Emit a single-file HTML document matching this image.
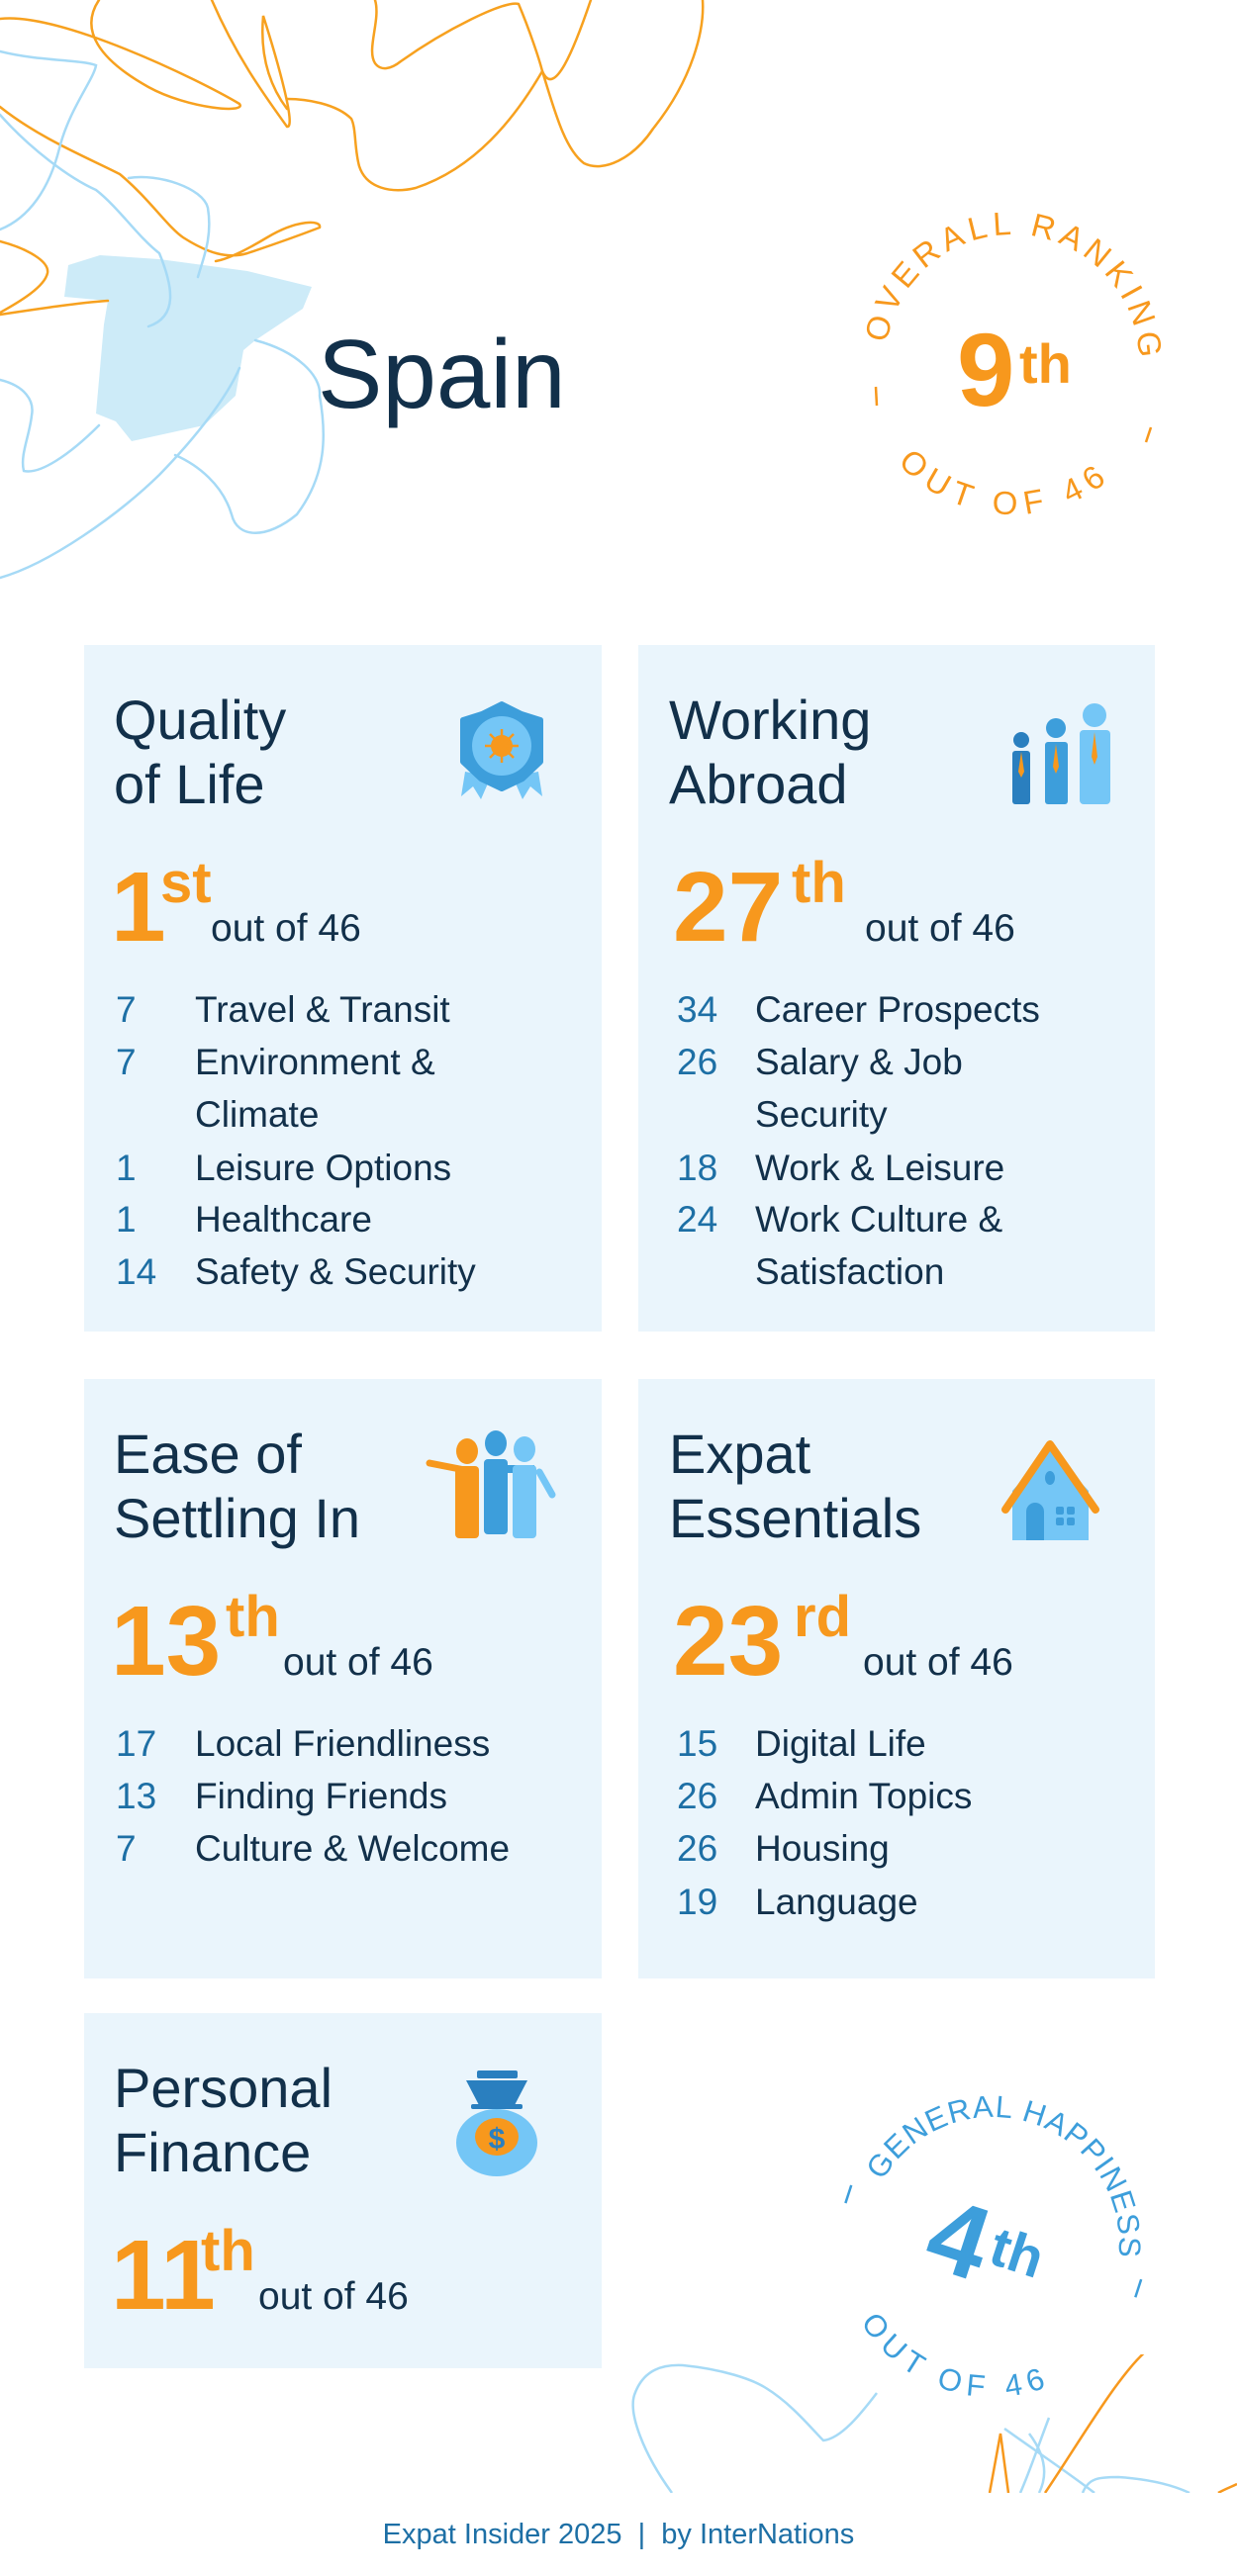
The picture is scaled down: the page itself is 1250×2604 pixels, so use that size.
<!DOCTYPE html>
<html><head><meta charset="utf-8"><style>
html,body{margin:0;padding:0;background:#fff;}
svg{display:block;}
text{font-family:"Liberation Sans",sans-serif;}
.t{font-size:56px;fill:#12304a;}
.big{font-size:100px;font-weight:bold;fill:#f7981d;}
.sup{font-size:58px;font-weight:bold;fill:#f7981d;}
.of{font-size:39px;fill:#12304a;}
.n{font-size:37px;fill:#1d6fa5;}
.l{font-size:37px;fill:#12304a;}
</style></head><body>
<svg width="1250" height="2604" viewBox="0 0 1250 2604" xmlns="http://www.w3.org/2000/svg">
<rect width="1250" height="2604" fill="#fff"/>
<g fill="none" stroke-width="2.5" stroke-linecap="round">
<polygon points="69,268 101,258 161,262 250,274 315,290 306,312 258,344 246,354 238,400 206,430 133,446 117,426 97,418 105,328 109,304 65,300" fill="#cdebf8" stroke="none"/>
<g stroke="#f7a11f">
<path d="M0,19 C60,12 200,80 242,105 C250,115 190,110 150,88 C100,60 80,30 100,0"/>
<path d="M214,0 C240,60 270,100 290,128 C300,130 280,60 266,16 C262,60 275,90 290,110"/>
<path d="M379,0 C385,20 370,50 379,64 C385,72 395,70 405,62 C450,30 510,0 524,4 C535,30 545,60 548,72 C560,110 570,150 590,165 C610,175 640,160 660,130 C700,80 712,30 710,0"/>
<path d="M597,0 C580,50 560,100 548,72 M548,72 C520,120 480,170 420,190 C395,196 370,190 363,168 C358,150 360,130 355,120 C340,105 310,100 290,100"/>
<path d="M0,108 C40,140 90,160 121,176 C150,200 170,230 185,240 C210,256 230,262 250,256 C280,246 310,235 323,230 C325,222 300,222 270,240 C250,252 230,262 218,264"/>
<path d="M0,244 C30,252 50,265 48,276 C45,290 20,305 0,316 M0,318 C40,312 80,306 109,304"/>
</g>
<g stroke="#a6daf6">
<path d="M0,52 C40,62 80,60 97,66 C95,80 70,110 60,150 C50,190 30,220 0,232"/>
<path d="M0,116 C30,150 70,180 97,192 C120,210 140,240 161,256 C175,290 180,320 150,330"/>
<path d="M130,180 C160,175 205,190 210,210 C215,240 205,262 200,280"/>
<path d="M258,344 C300,355 325,380 323,400 C330,440 330,480 300,520 C270,545 240,545 234,520 C225,490 200,470 177,460"/>
<path d="M0,384 C25,390 35,405 32,420 C30,440 20,460 24,476 C40,480 70,460 100,430"/>
<path d="M0,584 C50,570 120,520 161,480 C200,440 230,400 242,372"/>
</g>
</g>
<clipPath id="cb"><rect x="0" y="2380" width="1250" height="140"/></clipPath>
<g clip-path="url(#cb)" fill="none" stroke-width="2.5">
<g stroke="#a6daf6">
<path d="M679,2520 C650,2480 635,2440 641,2421 C650,2395 670,2390 690,2391 C730,2395 760,2405 774,2414 C800,2430 820,2455 832,2467 C850,2465 870,2440 886,2419"/>
<path d="M1015,2455 C1050,2480 1080,2500 1106,2520"/>
<path d="M1060,2444 C1050,2470 1040,2500 1031,2520"/>
<path d="M1040,2460 C1055,2480 1060,2500 1050,2520"/>
<path d="M1094,2520 C1100,2505 1110,2504 1130,2504 C1160,2506 1185,2512 1202,2520"/>
</g>
<g stroke="#f7981d">
<path d="M1000,2520 L1011,2460 L1019,2520"/>
<path d="M1056,2520 C1090,2470 1130,2400 1160,2375 C1180,2362 1200,2364 1210,2364 C1230,2366 1240,2366 1250,2366"/>
<path d="M1231,2520 C1238,2516 1244,2514 1250,2511"/>
</g>
</g>
<text x="321" y="412" style="font-size:98px;fill:#12304a;">Spain</text>
<defs>
<path id="otop" d="M902.7,408.8 A128,128 0 1 1 1143.3,408.8"/>
<path id="obot" d="M868,365 A155,155 0 0 0 1178,365"/>
<path id="gtop" d="M882.7,2311.8 A128,128 0 1 1 1123.3,2311.8"/>
<path id="gbot" d="M848,2268 A155,155 0 0 0 1158,2268"/>
</defs>
<g fill="#f7981d" style="font-size:33px;">
<text letter-spacing="5"><textPath href="#otop" startOffset="52%" text-anchor="middle">OVERALL RANKING</textPath></text>
<text letter-spacing="8"><textPath href="#obot" startOffset="48%" text-anchor="middle">OUT OF 46</textPath></text>
</g>
<line x1="885" y1="391" x2="886" y2="410" stroke="#f7981d" stroke-width="2.5"/>
<line x1="1163" y1="432" x2="1158" y2="447" stroke="#f7981d" stroke-width="2.5"/>
<text x="967" y="410" style="font-size:105px;font-weight:bold;fill:#f7981d;">9</text>
<text x="1030" y="387" style="font-size:56px;font-weight:bold;fill:#f7981d;">th</text>
<g transform="rotate(18 1003 2268)" fill="#3d9edb" style="font-size:31px;">
<text letter-spacing="1"><textPath href="#gtop" startOffset="50%" text-anchor="middle">GENERAL HAPPINESS</textPath></text>
<text letter-spacing="7"><textPath href="#gbot" startOffset="50%" text-anchor="middle">OUT OF 46</textPath></text>
<line x1="849" y1="2256" x2="849" y2="2275" stroke="#3d9edb" stroke-width="2.5"/>
<line x1="1157" y1="2256" x2="1157" y2="2275" stroke="#3d9edb" stroke-width="2.5"/>
<text x="940" y="2310" style="font-size:105px;font-weight:bold;">4</text>
<text x="1003" y="2288" style="font-size:56px;font-weight:bold;">th</text>
</g>
<g fill="#eaf5fc">
<rect x="85" y="652" width="523" height="694"/>
<rect x="645" y="652" width="522" height="694"/>
<rect x="85" y="1394" width="523" height="606"/>
<rect x="645" y="1394" width="522" height="606"/>
<rect x="85" y="2035" width="523" height="359"/>
</g>
<text class="t" x="115" y="747">Quality</text>
<text class="t" x="115" y="812">of Life</text>
<text class="big" x="112" y="951">1</text>
<text class="sup" x="162" y="912">st</text>
<text class="of" x="213" y="951">out of 46</text>
<text class="n" x="117" y="1033">7</text><text class="l" x="197" y="1033">Travel &amp; Transit</text>
<text class="n" x="117" y="1086">7</text><text class="l" x="197" y="1086">Environment &amp;</text>
<text class="l" x="197" y="1139">Climate</text>
<text class="n" x="117" y="1193">1</text><text class="l" x="197" y="1193">Leisure Options</text>
<text class="n" x="117" y="1245">1</text><text class="l" x="197" y="1245">Healthcare</text>
<text class="n" x="117" y="1298">14</text><text class="l" x="197" y="1298">Safety &amp; Security</text>
<polygon points="470,780 466,805 478,795 486,808 496,785" fill="#74c6f6"/>
<polygon points="544,780 548,805 536,795 528,808 518,785" fill="#74c6f6"/>
<polygon points="507,712 527,722 546,728 546,770 528,787 507,797 486,787 468,770 468,728 487,722" fill="#3d9edb" stroke="#3d9edb" stroke-width="6" stroke-linejoin="round"/>
<circle cx="507" cy="754" r="30" fill="#74c6f6"/>
<circle cx="507" cy="754" r="11" fill="#f7981d"/>
<g stroke="#f7981d" stroke-width="2.5"><line x1="507" y1="737" x2="507" y2="771"/><line x1="490" y1="754" x2="524" y2="754"/><line x1="495" y1="742" x2="519" y2="766"/><line x1="519" y1="742" x2="495" y2="766"/></g>
<text class="t" x="676" y="747">Working</text>
<text class="t" x="676" y="812">Abroad</text>
<text class="big" x="680" y="951">27</text>
<text class="sup" x="800" y="912">th</text>
<text class="of" x="874" y="951">out of 46</text>
<text class="n" x="684" y="1033">34</text><text class="l" x="763" y="1033">Career Prospects</text>
<text class="n" x="684" y="1086">26</text><text class="l" x="763" y="1086">Salary &amp; Job</text>
<text class="l" x="763" y="1139">Security</text>
<text class="n" x="684" y="1193">18</text><text class="l" x="763" y="1193">Work &amp; Leisure</text>
<text class="n" x="684" y="1245">24</text><text class="l" x="763" y="1245">Work Culture &amp;</text>
<text class="l" x="763" y="1298">Satisfaction</text>
<circle cx="1032" cy="748" r="8" fill="#2a7fbf"/><rect x="1023" y="759" width="18" height="54" rx="3" fill="#2a7fbf"/>
<circle cx="1067" cy="736" r="10" fill="#3d9edb"/><rect x="1056" y="750" width="23" height="63" rx="3" fill="#3d9edb"/>
<circle cx="1106" cy="723" r="12" fill="#74c6f6"/><rect x="1091" y="738" width="31" height="75" rx="4" fill="#74c6f6"/>
<polygon points="1032,760 1029,780 1032,786 1035,780" fill="#f7981d"/>
<polygon points="1067,752 1064,775 1067,782 1070,775" fill="#f7981d"/>
<polygon points="1106,740 1103,765 1106,773 1109,765" fill="#f7981d"/>
<text class="t" x="115" y="1489">Ease of</text>
<text class="t" x="115" y="1554">Settling In</text>
<text class="big" x="112" y="1693">13</text>
<text class="sup" x="228" y="1654">th</text>
<text class="of" x="286" y="1693">out of 46</text>
<text class="n" x="117" y="1775">17</text><text class="l" x="197" y="1775">Local Friendliness</text>
<text class="n" x="117" y="1828">13</text><text class="l" x="197" y="1828">Finding Friends</text>
<text class="n" x="117" y="1881">7</text><text class="l" x="197" y="1881">Culture &amp; Welcome</text>
<line x1="434" y1="1479" x2="480" y2="1488" stroke="#f7981d" stroke-width="7" stroke-linecap="round"/>
<ellipse cx="472" cy="1467" rx="11" ry="13" fill="#f7981d"/><rect x="460" y="1482" width="24" height="73" rx="4" fill="#f7981d"/>
<ellipse cx="501" cy="1459" rx="11" ry="13" fill="#3d9edb"/><rect x="489" y="1475" width="24" height="76" rx="4" fill="#3d9edb"/>
<line x1="508" y1="1485" x2="540" y2="1485" stroke="#3d9edb" stroke-width="8"/>
<ellipse cx="530" cy="1465" rx="11" ry="13" fill="#74c6f6"/><rect x="518" y="1481" width="24" height="74" rx="4" fill="#74c6f6"/>
<line x1="545" y1="1488" x2="558" y2="1511" stroke="#74c6f6" stroke-width="7" stroke-linecap="round"/>
<text class="t" x="676" y="1489">Expat</text>
<text class="t" x="676" y="1554">Essentials</text>
<text class="big" x="680" y="1693">23</text>
<text class="sup" x="802" y="1654">rd</text>
<text class="of" x="872" y="1693">out of 46</text>
<text class="n" x="684" y="1775">15</text><text class="l" x="763" y="1775">Digital Life</text>
<text class="n" x="684" y="1828">26</text><text class="l" x="763" y="1828">Admin Topics</text>
<text class="n" x="684" y="1881">26</text><text class="l" x="763" y="1881">Housing</text>
<text class="n" x="684" y="1935">19</text><text class="l" x="763" y="1935">Language</text>
<polygon points="1023,1507 1061,1465 1100,1507 1100,1557 1023,1557" fill="#74c6f6"/>
<polyline points="1016,1526 1061,1460 1107,1526" fill="none" stroke="#f7981d" stroke-width="8" stroke-linecap="round" stroke-linejoin="round"/>
<ellipse cx="1061" cy="1494" rx="5" ry="7" fill="#3d9edb"/>
<path d="M1037,1557 V1528 A9,9 0 0 1 1055,1528 V1557 Z" fill="#3d9edb"/>
<g fill="#3d9edb"><rect x="1067" y="1523" width="8" height="8" rx="2"/><rect x="1078" y="1523" width="8" height="8" rx="2"/><rect x="1067" y="1534" width="8" height="8" rx="2"/><rect x="1078" y="1534" width="8" height="8" rx="2"/></g>
<text class="t" x="115" y="2130">Personal</text>
<text class="t" x="115" y="2195">Finance</text>
<text class="big" x="112" y="2334">11</text>
<text class="sup" x="203" y="2295">th</text>
<text class="of" x="261" y="2334">out of 46</text>
<ellipse cx="502" cy="2166" rx="41" ry="34" fill="#74c6f6"/>
<rect x="482" y="2093" width="41" height="8" rx="2" fill="#2a7fbf"/>
<polygon points="471,2103 533,2103 520,2128 484,2128" fill="#2a7fbf"/>
<rect x="476" y="2127" width="52" height="5" rx="2" fill="#2a7fbf"/>
<ellipse cx="502" cy="2160" rx="22" ry="19" fill="#f7981d"/>
<text x="502" y="2172" text-anchor="middle" style="font-size:30px;font-weight:bold;fill:#2a7fbf;">$</text>
<text x="625" y="2571" text-anchor="middle" style="font-size:29px;fill:#1d6fa5;" xml:space="preserve">Expat Insider 2025  |  by InterNations</text>
</svg>
</body></html>
